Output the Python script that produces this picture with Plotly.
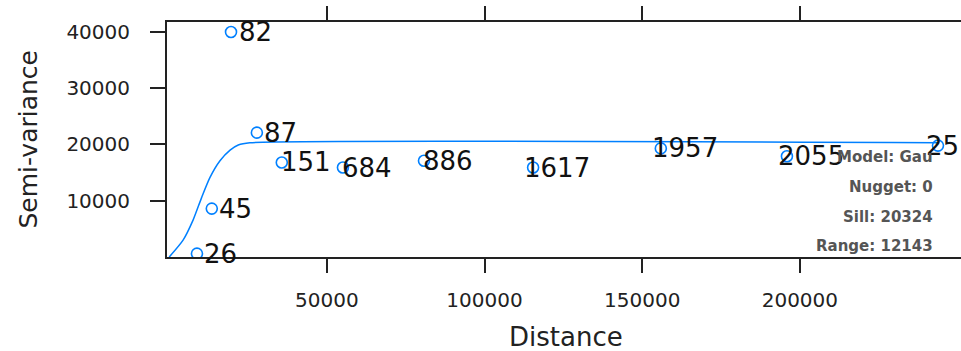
import plotly.graph_objects as go

# Empirical semivariogram points (distance, semivariance, number of pairs)
dist = [8800, 13500, 19600, 27800, 35700, 55100, 80800, 115400, 155900, 195900, 243800]
gamma = [600, 8600, 40000, 22100, 16800, 15900, 17100, 15900, 19300, 17900, 19800]
npairs = ["26", "45", "82", "87", "151", "684", "886", "1617", "1957", "2055", "25"]

# Fitted model curve
model_x = [0, 4400, 7600, 10300, 12900, 16100, 19300, 21900, 25600, 243800]
model_y = [0, 3000, 6600, 10600, 14100, 17100, 19000, 19900, 20300, 20300]

model_info = ["Model: Gau", "Nugget: 0", "Sill: 20324", "Range: 12143"]

xticks = [50000, 100000, 150000, 200000]
yticks = [10000, 20000, 30000, 40000]

BLUE = "#0080ff"
FONT = "DejaVu Sans"

fig = go.Figure()
fig.add_trace(go.Scatter(
    x=model_x, y=model_y, mode="lines",
    line=dict(color=BLUE, width=1.5, shape="spline", smoothing=0.6),
    hoverinfo="skip", showlegend=False,
))
fig.add_trace(go.Scatter(
    x=dist, y=gamma, mode="markers",
    marker=dict(symbol="circle-open", size=11, color=BLUE, line=dict(width=1.6, color=BLUE)),
    showlegend=False, cliponaxis=True,
))

annots = []
# pair-count labels, drawn at the data points
for i, (xv, yv, lab) in enumerate(zip(dist, gamma, npairs)):
    last = i == len(dist) - 1
    annots.append(dict(
        text=lab, x=xv, y=yv, xref="x", yref="y",
        xanchor="right" if last else "center", yanchor="middle",
        xshift=23 if last else 24, showarrow=False,
        font=dict(family=FONT, size=26, color="#111"),
    ))

info_y = [0.4255, 0.298, 0.170, 0.047]
for t, yy in zip(model_info, info_y):
    annots.append(dict(
        text=t, x=0.967, y=yy, xref="paper", yref="paper",
        xanchor="right", yanchor="middle", showarrow=False,
        font=dict(family="DejaVu Sans", size=15, color="#555", weight="bold"),
    ))
annots.append(dict(
    text="Semi-variance", x=-0.175, y=0.5, xref="paper", yref="paper",
    xanchor="center", yanchor="middle", textangle=-90, showarrow=False,
    font=dict(family=FONT, size=25, color="#222"),
))
annots.append(dict(
    text="Distance", x=0.5025, y=-0.34, xref="paper", yref="paper",
    xanchor="center", yanchor="middle", showarrow=False,
    font=dict(family=FONT, size=26, color="#222"),
))

fig.update_layout(
    width=961, height=351,
    margin=dict(l=167, r=0, t=22, b=94),
    paper_bgcolor="white", plot_bgcolor="white",
    annotations=annots,
    xaxis=dict(
        range=[-700, 251100], tickvals=xticks, ticktext=[str(v) for v in xticks],
        showline=True, linecolor="#222", linewidth=2, mirror="ticks",
        ticks="outside", ticklen=14, tickwidth=2, tickcolor="#222",
        showgrid=False, zeroline=False, ticklabelstandoff=10,
        tickfont=dict(family=FONT, size=20, color="#222"),
    ),
    yaxis=dict(
        range=[0, 41770], tickvals=yticks, ticktext=[str(v) for v in yticks],
        showline=True, linecolor="#222", linewidth=2, mirror=False,
        ticks="outside", ticklen=15, tickwidth=2, tickcolor="#222",
        showgrid=False, zeroline=False, ticklabelstandoff=16,
        tickfont=dict(family=FONT, size=20, color="#222"),
    ),
)

fig.write_html("out.html")
